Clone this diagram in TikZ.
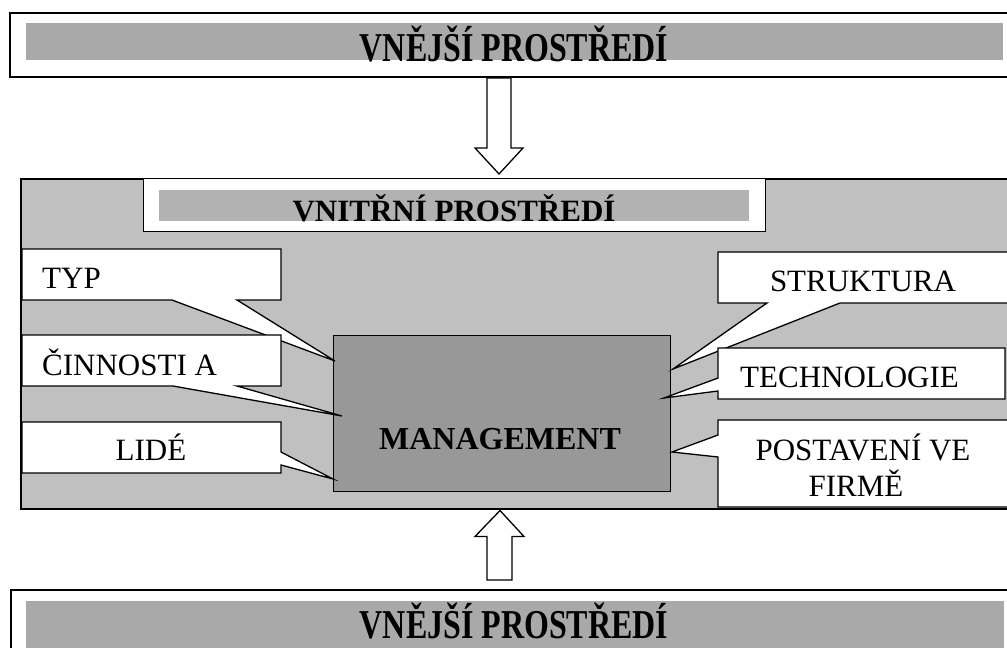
\documentclass[tikz,border=0pt]{standalone}
\usepackage{fontspec}
\usepackage{graphicx}
\setmainfont{Liberation Serif}
\usetikzlibrary{calc}

\definecolor{panelgray}{HTML}{C0C0C0}
\definecolor{coregray}{HTML}{989898}
\definecolor{bargray}{HTML}{A9A9A9}
\definecolor{titlebargray}{HTML}{B2B2B2}

\tikzset{
  framebox/.style={draw=black, line width=2pt, fill=white, anchor=north west, inner sep=0pt},
  greybar/.style={fill=#1, draw=none, anchor=north west, inner sep=0pt},
  calloutbox/.style={draw=black, line width=1.3pt, fill=white, line join=miter},
  blockarrow/.style={draw=black, line width=1.3pt, fill=white, line join=miter},
  labeltext/.style={inner sep=0pt, font=\fontsize{31}{36}\selectfont},
  boldtext/.style={inner sep=0pt, font=\fontsize{31}{36}\selectfont\bfseries},
  coretext/.style={inner sep=0pt, font=\fontsize{32}{36}\selectfont\bfseries},
  outertitle/.style={inner sep=0pt, font=\fontsize{41}{41}\selectfont\bfseries},
}

\begin{document}
\begin{tikzpicture}[x=1pt, y=-1pt]
\useasboundingbox (0,0) rectangle (1007,648);
\clip (0,0) rectangle (1007,648);
\fill[white] (0,0) rectangle (1007,648);

% outer environment, top
\node[framebox, minimum width=1020pt, minimum height=64pt] (extTop) at (9,12) {};
\node[greybar=bargray, minimum width=977pt, minimum height=37pt] (extTopBar) at (26,23) {};
\node[outertitle, anchor=base] (extTopTitle) at (514,61) {\scalebox{0.78}[1]{VNĚJŠÍ PROSTŘEDÍ}};

% inner environment panel
\node[draw=black, line width=1.5pt, fill=panelgray, anchor=north west, inner sep=0pt,
      minimum width=1010pt, minimum height=330pt] (intBox) at (20,178) {};
\node[draw=black, line width=1.3pt, fill=white, anchor=north west, inner sep=0pt,
      minimum width=622pt, minimum height=53pt] (intHead) at (143,178) {};
\node[greybar=titlebargray, minimum width=590pt, minimum height=31pt] (intHeadBar) at (159,190) {};
\node[boldtext, anchor=base] (intTitle) at (454,221) {VNITŘNÍ PROSTŘEDÍ};

% outer environment, bottom
\node[framebox, minimum width=1020pt, minimum height=80pt] (extBot) at (10,589) {};
\node[greybar=bargray, minimum width=978pt, minimum height=60pt] (extBotBar) at (26,601) {};
\node[outertitle, anchor=base] (extBotTitle) at (514,638) {\scalebox{0.78}[1]{VNĚJŠÍ PROSTŘEDÍ}};

% block arrows between the environments
\coordinate (axisTop) at (499,0);
\coordinate (axisBot) at (500,0);
\path (extTop.south -| axisTop) coordinate (tA)
      (intBox.north -| axisTop) coordinate (tB)
      (intBox.south -| axisBot) coordinate (bA)
      (extBot.north -| axisBot) coordinate (bB);
\draw[blockarrow] ($(tA)+(-12,0)$) -- ($(tA)+(12,0)$) -- ($(tB)+(12,-30)$) -- ($(tB)+(24,-30)$)
  -- ($(tB)+(0,-4)$) -- ($(tB)+(-24,-30)$) -- ($(tB)+(-12,-30)$) -- cycle;
\draw[blockarrow] ($(bB)+(-13,-9)$) -- ($(bB)+(12,-9)$) -- ($(bA)+(12,27)$) -- ($(bA)+(24,27)$)
  -- ($(bA)+(0,1)$) -- ($(bA)+(-25,27)$) -- ($(bA)+(-13,27)$) -- cycle;

% management core
\node[draw=black, line width=1.3pt, fill=coregray, anchor=north west, inner sep=0pt,
      minimum width=337pt, minimum height=156pt] (mgmt) at (333,335) {};
\node[coretext, anchor=base] (mgmtText) at (500,449) {MANAGEMENT};

% left callouts
\draw[calloutbox] (22,249) -- (281,249) -- (281,300) -- (237,300) -- (335,361) -- (172,300) -- (22,300) -- cycle;
\node[labeltext, anchor=base west] (typ) at (42,288) {TYP};

\draw[calloutbox] (22,335) -- (281,335) -- (281,386) -- (237,386) -- (342,416) -- (173,386) -- (22,386) -- cycle;
\node[labeltext, anchor=base west] (cinn) at (42,375) {ČINNOSTI A};

\draw[calloutbox] (22,422) -- (281,422) -- (281,452) -- (333,479) -- (281,465) -- (281,473) -- (22,473) -- cycle;
\node[labeltext, anchor=base] (lide) at (151,460) {LIDÉ};

% right callouts
\draw[calloutbox] (718,252) -- (1020,252) -- (1020,303) -- (840,303) -- (673,369) -- (767,303) -- (718,303) -- cycle;
\node[labeltext, anchor=base] (strukt) at (863,291) {STRUKTURA};

\draw[calloutbox] (718,348) -- (1005,348) -- (1005,399) -- (718,399) -- (718,391) -- (664,398) -- (718,378) -- cycle;
\node[labeltext, anchor=base west] (tech) at (740,387) {TECHNOLOGIE};

\draw[calloutbox] (718,420) -- (1020,420) -- (1020,507) -- (718,507) -- (718,457) -- (672,452) -- (718,435) -- cycle;
\node[labeltext, anchor=base] (postA) at (863,460) {POSTAVENÍ VE};
\node[labeltext, anchor=base] (postB) at (856,496) {FIRMĚ};
\end{tikzpicture}
\end{document}
